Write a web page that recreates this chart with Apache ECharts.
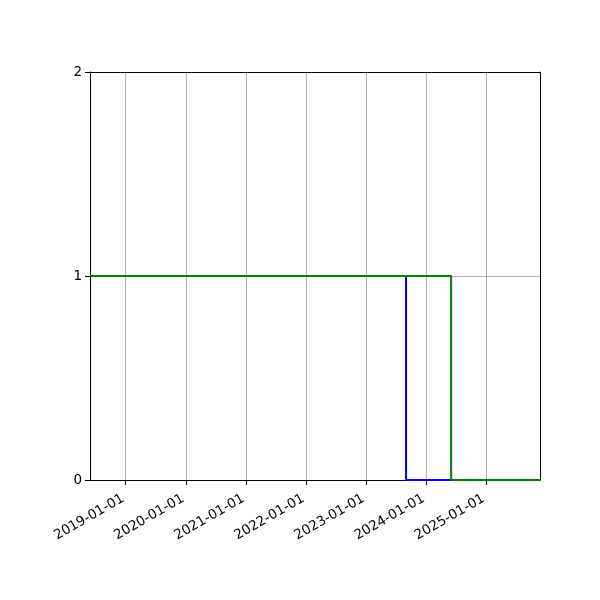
<!DOCTYPE html>
<html><head><meta charset="utf-8">
<script src="https://cdn.jsdelivr.net/npm/echarts@6/dist/echarts.min.js"></script>
<style>html,body{margin:0;padding:0;background:#fff}#c{width:600px;height:600px}</style>
</head><body><div id="c"></div>
<script>
var xRange = ['2018-05-29', '2025-11-23'];
var xTickLabels = ['2019-01-01','2020-01-01','2021-01-01','2022-01-01','2023-01-01','2024-01-01','2025-01-01'];
var yTicks = [0, 1, 2];
var blueDates = ['2018-05-29', '2023-09-01', '2025-11-23'];
var blueValues = [1, 0, 0];
var greenDates = ['2018-05-29', '2024-06-01', '2025-11-23'];
var greenValues = [1, 0, 0];

function ts(s){ var p = s.split('-'); return Date.UTC(+p[0], +p[1]-1, +p[2]); }
function fmt(v){ var d = new Date(v); var m = d.getUTCMonth()+1, dd = d.getUTCDate();
  return d.getUTCFullYear()+'-'+(m<10?'0':'')+m+'-'+(dd<10?'0':'')+dd; }
function pairs(ds, vs){ return ds.map(function(d,i){ return [ts(d), vs[i]]; }); }
var tickVals = xTickLabels.map(ts);
var frameAxis = {axisLine:{show:true, onZero:false, lineStyle:{color:'#000', width:1}},
  axisTick:{show:false}, axisLabel:{show:false}, splitLine:{show:false}};

var chart = echarts.init(document.getElementById('c'), null, {renderer:'canvas'});
chart.setOption({
  animation:false,
  grid:{left:90, right:60, top:72, bottom:120, show:false, containLabel:false},
  xAxis:[{
    type:'value', min:ts(xRange[0]), max:ts(xRange[1]),
    axisLine:{show:true, onZero:false, lineStyle:{color:'#000', width:1}},
    axisTick:{show:true, customValues:tickVals, length:5, lineStyle:{color:'#000'}},
    axisLabel:{show:true, customValues:tickVals, rotate:30, formatter:fmt, color:'#000',
      fontFamily:'DejaVu Sans', fontSize:13.5, margin:8, align:'right', verticalAlign:'top',
      padding:[0, 7, 0, 0]},
    splitLine:{show:true, lineStyle:{color:'#b0b0b0', width:1}}
  }, Object.assign({type:'value', position:'top', min:ts(xRange[0]), max:ts(xRange[1])}, frameAxis)],
  yAxis:[{
    type:'value', min:yTicks[0], max:yTicks[yTicks.length-1], interval:1,
    axisLine:{show:true, onZero:false, lineStyle:{color:'#000', width:1}},
    axisTick:{show:true, length:5, lineStyle:{color:'#000'}},
    axisLabel:{color:'#000', fontFamily:'DejaVu Sans', fontSize:13.5, margin:8},
    splitLine:{show:true, lineStyle:{color:'#b0b0b0', width:1}}
  }, Object.assign({type:'value', position:'right', min:yTicks[0], max:yTicks[yTicks.length-1]}, frameAxis)],
  series:[
    {type:'line', step:'end', data:pairs(blueDates, blueValues), showSymbol:false, symbol:'none',
     lineStyle:{color:'#0000ff', width:2}, z:3, clip:false},
    {type:'line', step:'end', data:pairs(greenDates, greenValues), showSymbol:false, symbol:'none',
     lineStyle:{color:'#008000', width:2}, z:4, clip:false}
  ]
});
</script></body></html>
